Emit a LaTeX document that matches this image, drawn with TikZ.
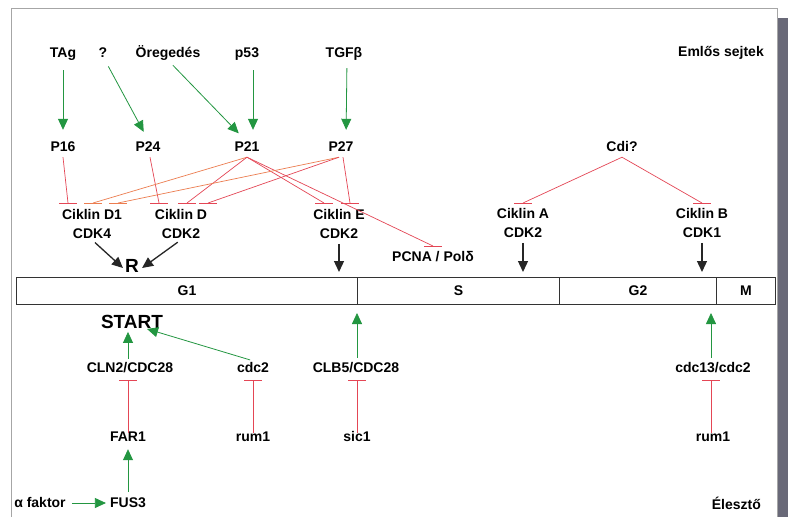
\documentclass[tikz,border=0pt]{standalone}
\usepackage{fontspec}
\setmainfont{Liberation Sans}
\usetikzlibrary{arrows.meta}
\definecolor{inh}{RGB}{228,70,85}
\definecolor{inho}{RGB}{236,125,80}
\definecolor{act}{RGB}{35,150,65}
\definecolor{scan}{RGB}{105,105,120}
\tikzset{
  lbl/.style={font=\fontsize{14}{19}\selectfont\bfseries, inner sep=1pt, text height=10pt, text depth=2pt},
  lblc/.style={font=\fontsize{14}{19}\selectfont\bfseries, inner sep=1pt, align=center},
  big/.style={font=\fontsize{19}{22}\selectfont\bfseries, inner sep=1pt},
  garrow/.style={draw=act, line width=0.8pt, -{Triangle[length=11pt,width=10pt]}},
  barrow/.style={draw=black!85, line width=1.3pt, -{Triangle[length=11pt,width=10pt]}},
  inhline/.style={draw=inh, line width=0.7pt},
  inhlineo/.style={draw=inho, line width=0.7pt},
  phase/.style={draw=black!80, line width=1pt, minimum height=27pt, inner sep=0pt, anchor=north west, font=\fontsize{14}{16}\selectfont\bfseries},
}
\newcommand{\hbarat}[2][inh]{\draw[draw=#1, line width=0.7pt] ([xshift=-9pt]#2) -- ([xshift=9pt]#2);}
\begin{document}
\begin{tikzpicture}[x=1pt,y=-1pt]
\useasboundingbox (0,0) rectangle (788,517);
\fill[white] (0,0) rectangle (788,517);
% scan frame
\fill[scan] (777,18) rectangle (788,517);
\draw[gray!70, line width=0.8pt] (11,517) -- (11,8) -- (777,8) -- (777,517);

% top labels
\node[lbl] (TAg) at (63,53) {TAg};
\node[lbl] (q) at (103,53) {?};
\node[lbl] (Ore) at (168,53) {Öregedés};
\node[lbl] (p53) at (247,53) {p53};
\node[lbl] (TGF) at (344,53) {TGFβ};
\node[lbl, anchor=east] (Emlos) at (765,52) {Emlős sejtek};

% second row
\node[lbl] (P16) at (63,147) {P16};
\node[lbl] (P24) at (148,147) {P24};
\node[lbl] (P21) at (247,147) {P21};
\node[lbl] (P27) at (341,147) {P27};
\node[lbl] (Cdi) at (622,147) {Cdi?};

% green arrows top
\draw[garrow, shorten <=10pt, shorten >=10pt] (TAg.south) -- (P16.north);
\draw[garrow, shorten <=7pt, shorten >=9pt] ([xshift=2pt]q.south) -- (P24.north);
\draw[garrow, shorten <=7pt, shorten >=9pt] (Ore.south) -- ([xshift=-2pt]P21.north);
\draw[garrow, shorten <=10pt, shorten >=10pt] ([xshift=6pt]p53.south) -- ([xshift=6pt]P21.north);
\draw[garrow, shorten <=8pt, shorten >=10pt] ([xshift=3pt]TGF.south) -- ([xshift=5pt]P27.north);

% cyclin complexes
\node[lblc] (D1) at (92,224) {Ciklin D1\\CDK4};
\node[lblc] (D) at (181,224) {Ciklin D\\CDK2};
\node[lblc] (E) at (339,224) {Ciklin E\\CDK2};
\node[lblc] (A) at (523,223) {Ciklin A\\CDK2};
\node[lblc] (B) at (702,223) {Ciklin B\\CDK1};
\node[lbl] (PCNA) at (433,257) {PCNA / Polδ};
\node[big] (R) at (132,266) {R};

% bar end points
\coordinate (b16) at (68,203);
\coordinate (b21a) at (93,203);
\coordinate (b27a) at (118,203);
\coordinate (b24) at (159,203);
\coordinate (b21b) at (187,203);
\coordinate (b27b) at (208,203);
\coordinate (b21c) at (324,203);
\coordinate (b27c) at (350,203);
\coordinate (bA) at (523,203);
\coordinate (bB) at (702,203);
\coordinate (bP) at (433,246);

\coordinate (s21) at ([yshift=-3pt]P21.south);
\coordinate (s27) at ([yshift=-3pt]P27.south);
\coordinate (sCdi) at ([yshift=-3pt]Cdi.south);

\draw[inhline] ([yshift=-3pt]P16.south) -- (b16);
\draw[inhline] ([xshift=2pt,yshift=-3pt]P24.south) -- (b24);
\draw[inhlineo] (s21) -- (b21a);
\draw[inhline] (s21) -- (b21b);
\draw[inhline] (s21) -- (b21c);
\draw[inhline] (s21) -- (bP);
\draw[inhlineo] ([xshift=-2pt]s27) -- (b27a);
\draw[inhline] ([xshift=-2pt]s27) -- (b27b);
\draw[inhline] ([xshift=2pt]s27) -- (b27c);
\draw[inhline] (sCdi) -- (bA);
\draw[inhline] (sCdi) -- (bB);
\hbarat{b16}
\hbarat[inho]{b21a}
\hbarat[inho]{b27a}
\hbarat{b24}
\hbarat{b21b}
\hbarat{b27b}
\hbarat{b21c}
\hbarat{b27c}
\hbarat{bA}
\hbarat{bB}
\hbarat{bP}

% phase bar
\node[phase, minimum width=341pt] (G1) at (16,277) {G1};
\node[phase, minimum width=202pt] (S) at (357,277) {S};
\node[phase, minimum width=157pt] (G2) at (559,277) {G2};
\node[phase, minimum width=59pt] (M) at (716,277) {M};

% black arrows
\draw[barrow, shorten <=4pt] (D1.south) -- ([xshift=-1pt,yshift=-2pt]R.west);
\draw[barrow, shorten <=4pt] (D.south) -- ([xshift=2pt,yshift=-2pt]R.east);
\draw[barrow, shorten <=4pt, shorten >=5pt] (E.south) -- (E.south |- G1.north);
\draw[barrow, shorten <=4pt, shorten >=5pt] (A.south) -- (A.south |- S.north);
\draw[barrow, shorten <=4pt, shorten >=5pt] (B.south) -- (B.south |- G2.north);

% yeast part
\node[big] (START) at (132,322) {START};
\node[lbl] (CLN2) at (130,368) {CLN2/CDC28};
\node[lbl] (cdc2) at (253,368) {cdc2};
\node[lbl] (CLB5) at (356,368) {CLB5/CDC28};
\node[lbl] (cdc13) at (713,368) {cdc13/cdc2};
\node[lbl] (FAR1) at (128,437) {FAR1};
\node[lbl] (rum1a) at (253,437) {rum1};
\node[lbl] (sic1) at (357,437) {sic1};
\node[lbl] (rum1b) at (713,437) {rum1};
\node[lbl] (FUS3) at (128,503) {FUS3};
\node[lbl] (alpha) at (40,503) {α faktor};
\node[lbl, anchor=east] (Eleszto) at (762,505) {Élesztő};

\draw[garrow, shorten <=2pt, shorten >=2pt] ([xshift=-2pt]CLN2.north) -- ([xshift=-2pt]CLN2.north |- START.south);
\draw[garrow, shorten <=3pt] (cdc2.north) -- ([xshift=15pt,yshift=1pt]START.south);
\draw[garrow, shorten <=3pt] ([xshift=1pt]CLB5.north) -- ([xshift=1pt,yshift=-8pt]CLB5.north |- G1.south);
\draw[garrow, shorten <=3pt] ([xshift=-2pt]cdc13.north) -- ([xshift=-2pt,yshift=-8pt]cdc13.north |- G2.south);
\draw[garrow, shorten <=4pt, shorten >=5pt] (FUS3.north) -- (FAR1.south);
\draw[garrow, shorten <=5pt, shorten >=3pt] (alpha.east) -- (FUS3.west);

\coordinate (bCLN) at (128,380);
\coordinate (bcdc2) at (253,380);
\coordinate (bCLB) at (357,380);
\coordinate (bcdc13) at (711,380);
\draw[inhline] ([yshift=-3pt]FAR1.north) -- (bCLN);
\draw[inhline] ([yshift=-3pt]rum1a.north) -- (bcdc2);
\draw[inhline] ([yshift=-3pt]sic1.north) -- (bCLB);
\draw[inhline] ([xshift=-2pt,yshift=-3pt]rum1b.north) -- (bcdc13);
\hbarat{bCLN}
\hbarat{bcdc2}
\hbarat{bCLB}
\hbarat{bcdc13}
\end{tikzpicture}
\end{document}
